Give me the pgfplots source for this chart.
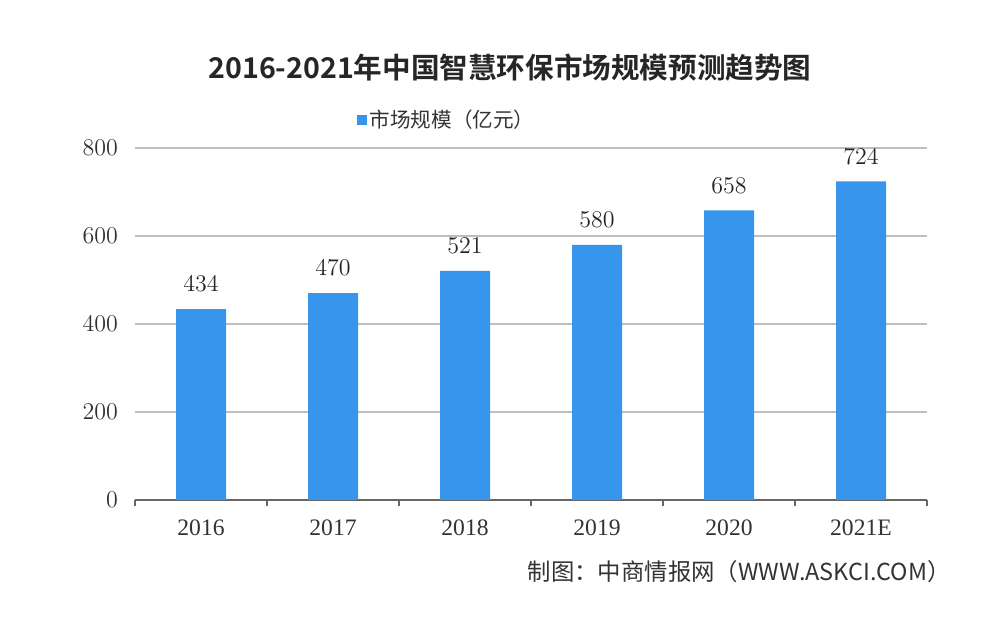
\documentclass[border=0pt]{standalone}
\usepackage{pgfplots}
\pgfplotsset{compat=1.18}
\usepackage{fontspec}
\setmainfont{Liberation Serif}
\newfontfamily\cjk{Noto Sans CJK SC}
\newfontfamily\cjkb{Noto Sans CJK SC Bold}
\definecolor{barblue}{RGB}{55,150,235}
\definecolor{gridgray}{RGB}{190,190,190}
\begin{document}
\begin{tikzpicture}[x=0.5pt,y=0.5pt]
\path[fill=white] (0,0) rectangle (1000,620);
\begin{axis}[
  at={(67.5pt,60pt)}, anchor=south west,
  scale only axis, width=396pt, height=176pt,
  xmin=-0.5, xmax=5.5, ymin=0, ymax=800,
  xtick={0,...,5},
  xticklabels={2016,2017,2018,2019,2020,2021E},
  minor xtick={-0.5,0.5,...,5.5},
  ytick={0,200,400,600,800},
  major tick length=0pt, minor tick length=3pt,
  tick align=outside,
  minor tick style={gray!80!black, line width=0.6pt},
  axis lines*=left,
  x axis line style={gray!80!black, line width=0.6pt, -},
  y axis line style={draw=none},
  ymajorgrids, grid style={gridgray, line width=0.6pt},
  ticklabel style={font=\fontsize{11.8}{13}\selectfont, text=black!80},
  xticklabel style={yshift=-6.5pt},
  yticklabel style={xshift=-5pt},
  ybar, bar width=25pt,
  nodes near coords,
  every node near coord/.append style={font=\fontsize{12.3}{14}\selectfont, text=black!85, inner sep=2pt, anchor=south, yshift=6.5pt},
  legend style={at={(axis description cs:0.394,1.080)}, anchor=center, draw=none, fill=none,
    font=\cjk\fontsize{10.3}{12}\selectfont, text=black!80, inner sep=0pt,
    nodes={inner xsep=1.5pt}},
  legend image code/.code={\fill[barblue] (0pt,-2.5pt) rectangle (5pt,2.5pt);},
]
\addplot[fill=barblue, draw=none] coordinates {(0,434) (1,470) (2,521) (3,580) (4,658) (5,724)};
\addlegendentry{市场规模（亿元）}
\end{axis}
\node[font=\cjkb\fontsize{14.3}{17}\selectfont, text=black!85] at (510,552) {2016-2021年中国智慧环保市场规模预测趋势图};
\node[anchor=east, font=\cjk\fontsize{11.7}{14}\selectfont, text=black!80, inner sep=0pt] at (951,48) {制图：中商情报网（WWW.ASKCI.COM）};
\end{tikzpicture}
\end{document}
